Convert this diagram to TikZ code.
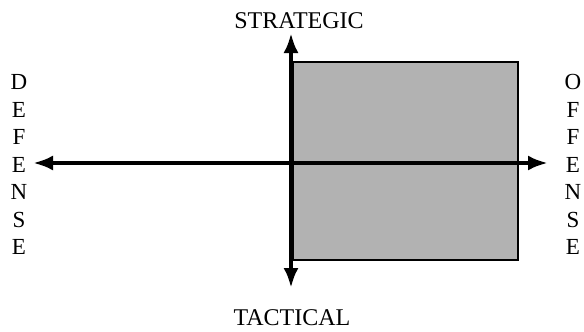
\documentclass[tikz,border=0pt]{standalone}
\usepackage{fontspec}
\setmainfont{Liberation Serif}
\usetikzlibrary{arrows.meta}

\begin{document}
\begin{tikzpicture}[
  x=0.5pt,y=-0.5pt,
  axis/.style={{Latex[length=10pt,width=7.5pt]}-{Latex[length=10pt,width=7.5pt]},line width=2pt},
  zone/.style={draw,line width=0.8pt,fill=black!30},
  pole/.style={font=\fontsize{12}{14}\selectfont,inner sep=0pt},
  side/.style={font=\fontsize{11.5}{13.75}\selectfont,align=center,inner sep=0pt}
]
  \useasboundingbox (0,0) rectangle (584,332);

  % Shaded quadrant
  \draw[zone] (293,62) rectangle (518,260);

  % Axes
  \coordinate (west) at (33,163);
  \coordinate (east) at (548,163);
  \coordinate (north) at (291,33);
  \coordinate (south) at (291,288);
  \draw[axis] (west) -- (east);
  \draw[axis] (south) -- (north);

  % Labels
  \node[pole] (strategic) at (299,21) {STRATEGIC};
  \node[pole] (tactical) at (292,318) {TACTICAL};
  \node[side] (defense) at (19,164.5) {D\\E\\F\\E\\N\\S\\E};
  \node[side] (offense) at (573,164.5) {O\\F\\F\\E\\N\\S\\E};
\end{tikzpicture}
\end{document}
